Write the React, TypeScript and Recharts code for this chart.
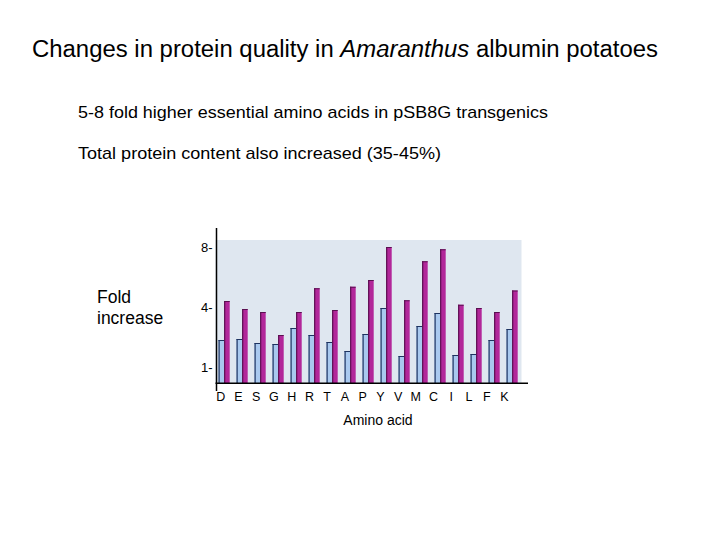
import React from "react";
import { BarChart, Bar, XAxis, YAxis, CartesianGrid } from "recharts";

const FONT = "'Liberation Sans', Arial, Helvetica, sans-serif";

// amino acids along the x axis
const aminoAcids = ["D", "E", "S", "G", "H", "R", "T", "A", "P", "Y", "V", "M", "C", "I", "L", "F", "K"];

// fold increase
const blueFold = [2.35, 2.4, 2.2, 2.15, 2.95, 2.6, 2.25, 1.8, 2.65, 3.95, 1.55, 3.05, 3.7, 1.6, 1.65, 2.35, 2.9];
const magentaFold = [4.4, 3.9, 3.75, 2.6, 3.75, 5.25, 3.85, 5.35, 5.8, 8.0, 4.45, 7.05, 7.85, 4.15, 3.95, 3.75, 5.1];

// the y axis in the original is not linear: 1, 4 and 8 sit at equal steps
const tickFolds = [1, 4, 8];
const BASE_FOLD = 0.2;

// map a fold value onto the (piecewise) axis position
function axisPos(fold: number): number {
  if (fold <= 4) return (fold - BASE_FOLD) / 3;
  return (4 - BASE_FOLD) / 3 + (fold - 4) / 4;
}

const data = aminoAcids.map((a, i) => ({
  amino: a,
  blue: axisPos(blueFold[i]),
  magenta: axisPos(magentaFold[i]),
}));

const ticks = tickFolds.map(axisPos);

function foldLabel(v: number): string {
  const i = ticks.findIndex((t) => Math.abs(t - v) < 1e-6);
  return i >= 0 ? `${tickFolds[i]}-` : "";
}

function BlueBar(props: any) {
  const { x, y, width, height } = props;
  if (!height || height <= 0) return null;
  return (
    <g>
      <rect x={x} y={y} width={width} height={height} fill="#a9c9ef" />
      <line x1={x + 0.6} y1={y} x2={x + 0.6} y2={y + height} stroke="#1e3360" strokeWidth={1.2} />
      <line x1={x} y1={y + 0.5} x2={x + width} y2={y + 0.5} stroke="#1e3360" strokeWidth={1} />
    </g>
  );
}

function MagentaBar(props: any) {
  const { x, y, width, height } = props;
  if (!height || height <= 0) return null;
  return (
    <g>
      <rect x={x} y={y} width={width} height={height} fill="#b2279a" />
      <line x1={x + 0.6} y1={y} x2={x + 0.6} y2={y + height} stroke="#5a1050" strokeWidth={1.2} />
      <line x1={x} y1={y + 0.5} x2={x + width} y2={y + 0.5} stroke="#5a1050" strokeWidth={1} />
    </g>
  );
}

function AminoTick(props: any) {
  const { x, y, payload } = props;
  const idx = payload?.index ?? 0;
  return (
    <text
      x={x - 3.7 - idx * 0.27}
      y={y}
      dy="0.71em"
      textAnchor="middle"
      fontSize={12.5}
      fontFamily={FONT}
      fill="#000"
    >
      {payload.value}
    </text>
  );
}

export default function App() {
  return (
    <div style={{ position: "absolute", left: 0, top: 0, width: 720, height: 540, background: "#fff" }}>
      <BarChart
        width={720}
        height={540}
        data={data}
        margin={{ top: 240, right: 198.5, bottom: 127, left: 175.5 }}
        barGap={0}
        barSize={5.6}
      >
        <CartesianGrid fill="#dfe7f0" horizontal={false} vertical={false} />
        <XAxis
          dataKey="amino"
          interval={0}
          axisLine={false}
          tickLine={false}
          tickMargin={3}
          tick={<AminoTick />}
        />
        <YAxis
          type="number"
          domain={[0, 143 / 60]}
          ticks={ticks}
          tickFormatter={foldLabel}
          axisLine={false}
          tickLine={false}
          tickSize={0}
          tickMargin={3}
          width={40}
          tick={{ fontSize: 13, fill: "#000", fontFamily: FONT }}
        />
        <Bar dataKey="blue" shape={<BlueBar />} isAnimationActive={false} />
        <Bar dataKey="magenta" shape={<MagentaBar />} isAnimationActive={false} />
      </BarChart>
      <svg
        width={720}
        height={540}
        style={{ position: "absolute", left: 0, top: 0, pointerEvents: "none" }}
      >
        <g fontFamily={FONT} fill="#000">
          <text x={32} y={56.5} fontSize={23} textLength={626} lengthAdjust="spacingAndGlyphs">
            Changes in protein quality in <tspan fontStyle="italic">Amaranthus</tspan> albumin potatoes
          </text>
          <text x={78} y={118} fontSize={17} textLength={470} lengthAdjust="spacingAndGlyphs">
            5-8 fold higher essential amino acids in pSB8G transgenics
          </text>
          <text x={78} y={159} fontSize={17} textLength={363} lengthAdjust="spacingAndGlyphs">
            Total protein content also increased (35-45%)
          </text>
          <text x={97} y={303} fontSize={17.5}>Fold</text>
          <text x={97} y={324} fontSize={17.5}>increase</text>
          <text x={378} y={424.5} fontSize={14} textAnchor="middle">Amino acid</text>
        </g>
        <line x1={216.5} y1={228} x2={216.5} y2={391} stroke="#000" strokeWidth={1.5} />
        <line x1={215.5} y1={383.3} x2={528} y2={383.3} stroke="#000" strokeWidth={1.5} />
      </svg>
    </div>
  );
}
